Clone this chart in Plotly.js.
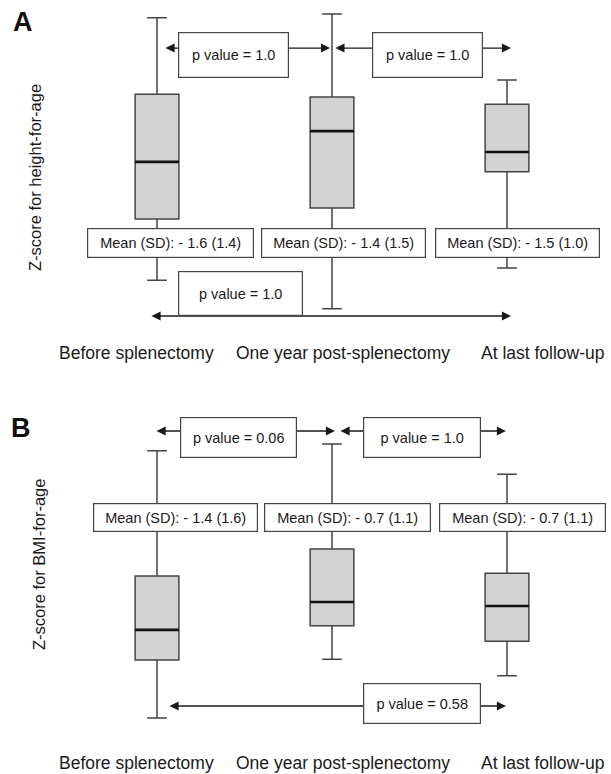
<!DOCTYPE html>
<html>
<head>
<meta charset="utf-8">
<script src="https://cdn.plot.ly/plotly-3.0.1.min.js"></script>
<style>html,body{margin:0;padding:0;background:#fff}#chart{width:611px;height:774px}</style>
</head>
<body>
<div id="chart"></div>
<script>
// ---------- data ----------
var categories = ["Before splenectomy", "One year post-splenectomy", "At last follow-up"];

// Panel A: Z-score for height-for-age
var heightQ1 = [-2.62, -2.42, -1.76];
var heightMedian = [-1.58, -1.02, -1.40];
var heightQ3 = [-0.35, -0.40, -0.53];
var heightLow = [-3.73, -4.25, -3.51];
var heightHigh = [1.04, 1.11, -0.09];
var heightMeanSD = ["Mean (SD): - 1.6 (1.4)", "Mean (SD): - 1.4 (1.5)", "Mean (SD): - 1.5 (1.0)"];
var heightPValues = ["p value = 1.0", "p value = 1.0", "p value = 1.0"]; // 1vs2, 2vs3, 1vs3

// Panel B: Z-score for BMI-for-age
var bmiQ1 = [-1.89, -1.13, -1.47];
var bmiMedian = [-1.22, -0.60, -0.69];
var bmiQ3 = [-0.02, 0.58, 0.04];
var bmiLow = [-3.18, -1.87, -2.24];
var bmiHigh = [2.76, 2.91, 2.24];
var bmiMeanSD = ["Mean (SD): - 1.4 (1.6)", "Mean (SD): - 0.7 (1.1)", "Mean (SD): - 0.7 (1.1)"];
var bmiPValues = ["p value = 0.06", "p value = 1.0", "p value = 0.58"];

// ---------- styling ----------
var FONT = "Liberation Sans, Arial, sans-serif";
var TXT = "#1a1a1a";
var LINE = "#444";
var BOXW = 0.25;
var xpos = [0, 1, 2];

function boxTrace(q1, med, q3, lo, hi, xa, ya) {
  return {
    type: "box", x: xpos, q1: q1, median: med, q3: q3, lowerfence: lo, upperfence: hi,
    width: BOXW, whiskerwidth: 0.45, fillcolor: "#d2d2d2",
    line: {color: LINE, width: 1.5}, boxpoints: false, hoverinfo: "skip",
    xaxis: xa, yaxis: ya
  };
}
function medianTrace(med, xa, ya) {
  var xs = [], ys = [];
  for (var i = 0; i < med.length; i++) {
    xs.push(xpos[i] - BOXW / 2, xpos[i] + BOXW / 2, null);
    ys.push(med[i], med[i], null);
  }
  return {type: "scatter", mode: "lines", x: xs, y: ys, line: {color: "#111", width: 2.6},
          hoverinfo: "skip", xaxis: xa, yaxis: ya};
}

var data = [
  boxTrace(heightQ1, heightMedian, heightQ3, heightLow, heightHigh, "x", "y"),
  medianTrace(heightMedian, "x", "y"),
  boxTrace(bmiQ1, bmiMedian, bmiQ3, bmiLow, bmiHigh, "x2", "y2"),
  medianTrace(bmiMedian, "x2", "y2")
];

var ann = [];
function arrow(xa, ya, x0, x1, y) {
  ann.push({xref: xa, yref: ya, axref: xa, ayref: ya, x: x1, y: y, ax: x0, ay: y, text: "",
            showarrow: true, arrowside: "end+start", arrowhead: 2, arrowsize: 1.4, arrowwidth: 1.3,
            arrowcolor: "#1a1a1a", standoff: 0, startstandoff: 0});
}
function boxText(xa, ya, x, y, txt, w, h) {
  ann.push({xref: xa, yref: ya, x: x, y: y, text: txt, showarrow: false, width: w, height: h,
            bgcolor: "#fff", bordercolor: LINE, borderwidth: 1.2, borderpad: 1,
            font: {family: FONT, size: 14.5, color: TXT}, xanchor: "center", yanchor: "middle"});
}

// Panel A arrows and boxes
arrow("x", "y", 0.04, 0.989, 0.49);
arrow("x", "y", 1.011, 2.023, 0.49);
arrow("x", "y", -0.04, 2.023, -4.382);
boxText("x", "y", 0.437, 0.364, heightPValues[0], 107, 42);
boxText("x", "y", 1.546, 0.364, heightPValues[1], 107, 42);
boxText("x", "y", 0.477, -3.973, heightPValues[2], 121, 41);
boxText("x", "y", 0.077, -3.055, heightMeanSD[0], 163, 26);
boxText("x", "y", 1.066, -3.055, heightMeanSD[1], 161, 26);
boxText("x", "y", 2.06, -3.055, heightMeanSD[2], 161, 26);

// Panel B arrows and boxes
arrow("x2", "y2", -0.011, 1.017, 3.2);
arrow("x2", "y2", 1.04, 1.994, 3.2);
arrow("x2", "y2", 0.063, 1.994, -2.911);
boxText("x2", "y2", 0.466, 3.056, bmiPValues[0], 113, 37);
boxText("x2", "y2", 1.514, 3.056, bmiPValues[1], 114, 37);
boxText("x2", "y2", 1.514, -2.856, bmiPValues[2], 114, 37);
boxText("x2", "y2", 0.106, 1.278, bmiMeanSD[0], 161, 25);
boxText("x2", "y2", 1.089, 1.278, bmiMeanSD[1], 163, 25);
boxText("x2", "y2", 2.089, 1.278, bmiMeanSD[2], 163, 25);

// Category labels (offset from boxes as in the original)
var labelX = [136, 343, 543];
var labelYpx = [353, 763];
for (var p = 0; p < 2; p++) {
  for (var i = 0; i < categories.length; i++) {
    ann.push({xref: "paper", yref: "paper", x: labelX[i] / 611, y: 1 - labelYpx[p] / 774,
              text: categories[i], showarrow: false, xanchor: "center", yanchor: "middle",
              font: {family: FONT, size: 17.5, color: TXT}});
  }
}
// Axis titles
ann.push({xref: "paper", yref: "paper", x: 35 / 611, y: 1 - 178 / 774, text: "Z-score for height-for-age",
          textangle: -90, showarrow: false, xanchor: "center", yanchor: "middle",
          font: {family: FONT, size: 16.5, color: TXT}});
ann.push({xref: "paper", yref: "paper", x: 39 / 611, y: 1 - 565 / 774, text: "Z-score for BMI-for-age",
          textangle: -90, showarrow: false, xanchor: "center", yanchor: "middle",
          font: {family: FONT, size: 16.5, color: TXT}});
// Panel letters
ann.push({xref: "paper", yref: "paper", x: 23 / 611, y: 1 - 22 / 774, text: "<b>A</b>", showarrow: false,
          xanchor: "center", yanchor: "middle", font: {family: FONT, size: 27, color: "#111"}});
ann.push({xref: "paper", yref: "paper", x: 21 / 611, y: 1 - 428 / 774, text: "<b>B</b>", showarrow: false,
          xanchor: "center", yanchor: "middle", font: {family: FONT, size: 27, color: "#111"}});

var xr = [-157 / 175, 454 / 175];
var layout = {
  width: 611, height: 774, margin: {l: 0, r: 0, t: 0, b: 0},
  paper_bgcolor: "#fff", plot_bgcolor: "rgba(0,0,0,0)", showlegend: false,
  xaxis: {range: xr, visible: false, anchor: "y"},
  yaxis: {domain: [1 - 340 / 774, 1], range: [-4.818, 1.364], visible: false, anchor: "x"},
  xaxis2: {range: xr, visible: false, anchor: "y2"},
  yaxis2: {domain: [0, 1 - 380 / 774], range: [-4.422, 4.333], visible: false, anchor: "x2"},
  annotations: ann
};

Plotly.newPlot("chart", data, layout, {displayModeBar: false, staticPlot: true});
</script>
</body>
</html>
